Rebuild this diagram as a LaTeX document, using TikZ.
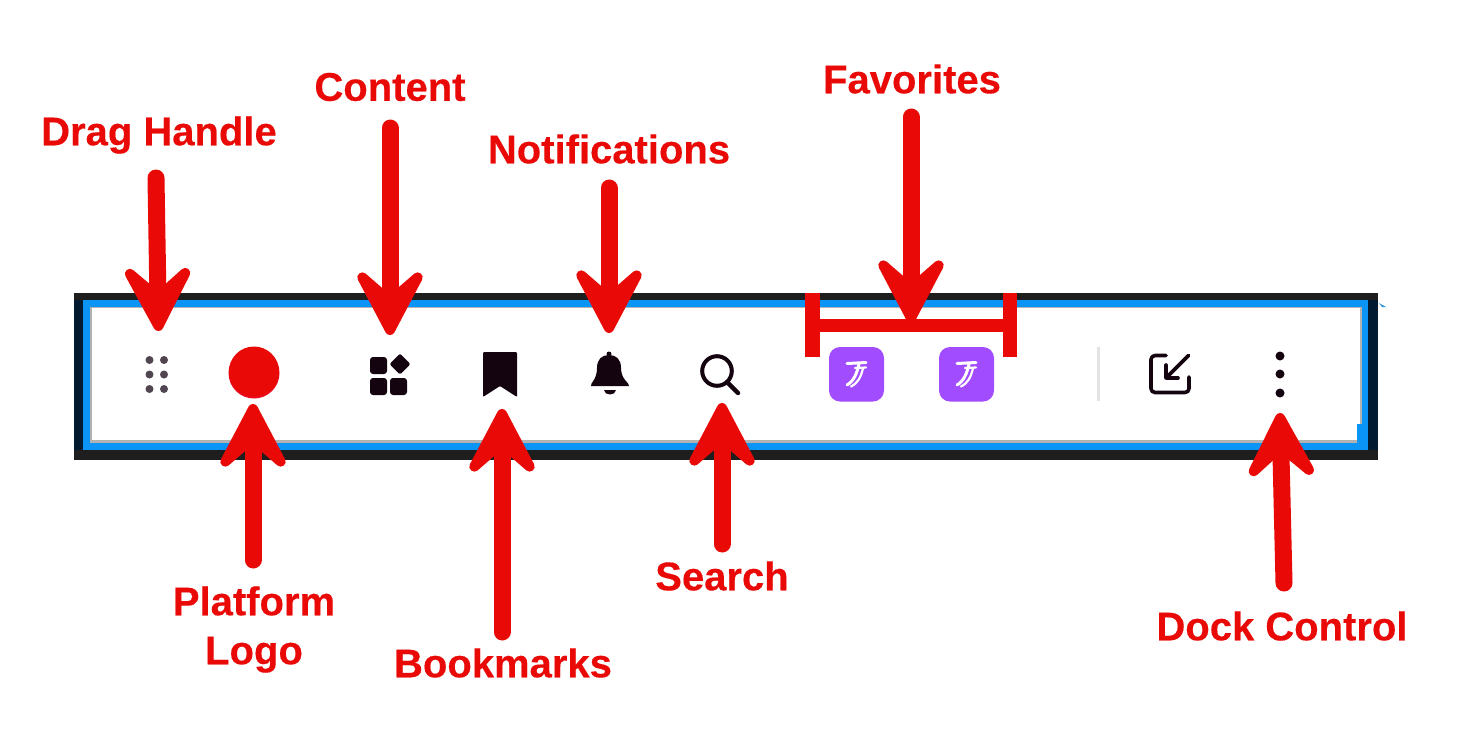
\documentclass[tikz,border=0pt]{standalone}
\usepackage{fontspec}
\setmainfont[BoldFeatures={FakeBold=0.3}]{Liberation Sans}
\usetikzlibrary{arrows.meta}
\definecolor{callred}{HTML}{E90A07}
\definecolor{barblack}{HTML}{1E1E1E}
\definecolor{barnavy}{HTML}{021A30}
\definecolor{barblue}{HTML}{0A94F5}
\definecolor{inkdark}{HTML}{14040F}
\definecolor{dotgrey}{HTML}{504550}
\definecolor{favpurple}{HTML}{A24CFF}
\tikzset{
  x=1pt,y=-1pt,
  lbl/.style={font=\fontsize{40}{49}\selectfont\bfseries,text=callred,inner sep=0pt,align=center},
  callout/.style={draw=callred,line width=17pt,line cap=round,
    -{Stealth[round,line width=10pt,length=84pt,width=88pt,inset=38pt]}},
  ink/.style={fill=inkdark,draw=none},
  inkline/.style={draw=inkdark,line width=3.6pt,line cap=round,line join=round},
  fav/.style={fill=favpurple,rounded corners=11pt,draw=none},
  favmark/.style={draw=white,line width=3pt,line cap=round},
}
\begin{document}
\begin{tikzpicture}
\useasboundingbox (0,0) rectangle (1484,748);
\fill[white] (0,0) rectangle (1484,748);
% bar frame
\fill[barblack] (74,293) rectangle (1378,460);
\fill[barnavy] (74,300) rectangle (83,450);
\fill[barnavy] (1368,300) rectangle (1378,450);
\fill[barblue] (83,300) rectangle (1368,450);
\fill[gray!60] (90,306.5) rectangle (1362,443);
\fill[white] (92,308) rectangle (1360,439.5);
\fill[barblue] (1357,424) rectangle (1366,450);
\fill[barblue!70!gray] (1379,303) -- (1382,307) -- (1386,307) -- cycle;
% drag handle
\foreach \px in {149.5,164}\foreach \py in {360,374.5,389}
  \fill[dotgrey] (\px,\py) circle (4);
% logo
\fill[callred!92!magenta] (254,373) circle (25.5);
\fill[callred] (254,371.5) circle (25);
% content
\fill[ink,rounded corners=3pt] (370,357) rectangle (387,374);
\fill[ink,rounded corners=3pt] (370,378) rectangle (387,395);
\fill[ink,rounded corners=3pt] (390,378) rectangle (407,395);
\fill[ink,rounded corners=2pt] (400,353.5) -- (410.5,364) -- (400,374.5) -- (389.5,364) -- cycle;
% bookmark
\fill[ink,rounded corners=1pt] (483,352) -- (517,352) -- (517,397) -- (500,386) -- (483,397) -- cycle;
% bell
\fill[ink] (609,354) circle (2.5);
\fill[ink] (591,386) .. controls (590,383) and (597,380) .. (597,368)
   .. controls (597,359) and (602,355) .. (609,355)
   .. controls (616,355) and (621,359) .. (621,368)
   .. controls (621,380) and (630,383) .. (629,386) -- cycle;
\fill[ink] (604,389.5) .. controls (604,396) and (616,396) .. (616,389.5) -- cycle;
% search
\draw[inkline,line width=4pt] (717,371) circle (14.8);
\draw[inkline,line width=4.4pt] (727,382) -- (738,393);
% favourites
\foreach \fx in {829,939}{
  \fill[fav] (\fx,347) rectangle ++(55,54.5);
  \begin{scope}[shift={(\fx,347)}]
    \draw[favmark] (18,16.5) -- (37,15.5);
    \draw[favmark,line width=2.2pt] (26,21) -- (37,20.5);
    \draw[favmark] (30,17) .. controls (28,26) and (25,34) .. (18,38);
    \draw[favmark,line width=2.2pt] (34,21) .. controls (32,30) and (29,36) .. (22,39.5);
  \end{scope}
}
% favourites bracket
\fill[callred] (805,293) rectangle (820,357);
\fill[callred] (1003,293) rectangle (1017,357);
\fill[callred] (820,318.5) rectangle (1003,332);
% separator
\fill[black!11] (1097,347) rectangle (1100,401);
% dock
\draw[inkline,rounded corners=4pt] (1166,355.5) -- (1151,355.5) -- (1151,392.5) -- (1189,392.5) -- (1189,377);
\draw[inkline] (1188.5,355.5) -- (1166,378);
\draw[inkline] (1166,365) -- (1166,378) -- (1178,378);
% menu dots
\foreach \py in {356,374,393} \fill[inkdark] (1280,\py) circle (4.5);
% labels
\node[lbl] (ldrag) at (159,135) {Drag Handle};
\node[lbl] (lcontent) at (390,87) {Content};
\node[lbl] (lnotif) at (609,149) {Notifications};
\node[lbl] (lfav) at (912,79) {Favorites};
\node[lbl] (llogo) at (254,629.5) {Platform\\Logo};
\node[lbl] (lbook) at (503,663) {Bookmarks};
\node[lbl] (lsearch) at (722,576) {Search};
\node[lbl] (ldock) at (1282,626) {Dock Control};
% connector ends
\coordinate (a1) at (156,178); \coordinate (b1) at (158.5,331);
\coordinate (a2) at (390,128); \coordinate (b2) at (390,335);
\coordinate (a3) at (609,188); \coordinate (b3) at (609,333);
\coordinate (a4) at (911,117); \coordinate (b4) at (911,323);
\coordinate (a5) at (253,560); \coordinate (b5) at (253,404);
\coordinate (a6) at (502,632); \coordinate (b6) at (502,409);
\coordinate (a7) at (722,544); \coordinate (b7) at (722,403);
\coordinate (a8) at (1284,583); \coordinate (b8) at (1280,413);
\foreach \n in {1,...,8} \draw[callout] (a\n) -- (b\n);
\end{tikzpicture}
\end{document}
